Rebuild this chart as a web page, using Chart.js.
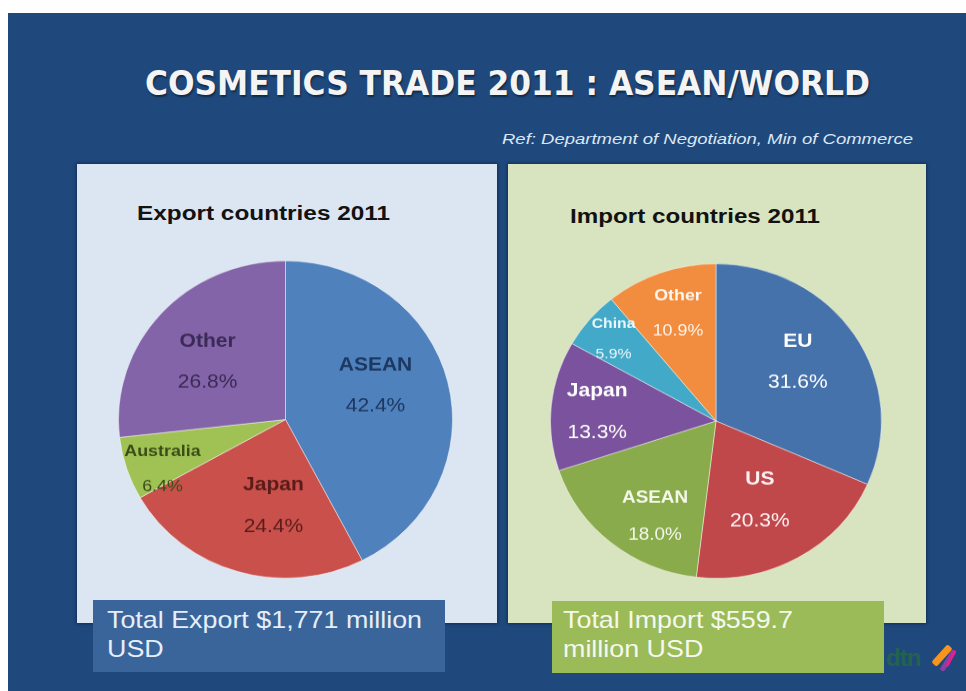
<!DOCTYPE html>
<html>
<head>
<meta charset="utf-8">
<script src="https://cdn.jsdelivr.net/npm/chart.js@4/dist/chart.umd.min.js"></script>
<style>
    html, body { margin: 0; padding: 0; background: #fff; }
    body { width: 966px; height: 691px; position: relative; overflow: hidden; font-family: 'Liberation Sans', Arial, sans-serif; }
    .slide { position: absolute; left: 8px; top: 13px; width: 958px; height: 678px; background: #1f497d; }
    .abs { position: absolute; white-space: nowrap; width: max-content; transform-origin: 0 0; }
    #title { left: 145px; top: 68px; font: bold 33px/32px 'DejaVu Sans', sans-serif; color: #f4f4f4; text-shadow: 1px 2px 2px rgba(0,0,0,0.45); }
    #ref { left: 502px; top: 131px; font: italic 15px/15px 'Liberation Sans', Arial, sans-serif; color: #dde7f3; }
    .panel { position: absolute; top: 164px; height: 459px; box-shadow: 0 0 3px 1px rgba(10,30,60,0.6); }
    #panelExport { left: 77px; width: 420px; background: #dce6f2; }
    #panelImport { left: 508px; width: 418px; background: #d8e4bf; }
    .ptitle { font: bold 20px/20px 'Liberation Sans', Arial, sans-serif; color: #121212; }
    .total { position: absolute; height: 72px; }
    #totalExport { left: 93px; top: 600px; width: 352px; background: #3a659b; }
    #totalImport { left: 552px; top: 601px; width: 332px; background: #9bbb59; }
    .ttext { font: 24px/29px 'Liberation Sans', Arial, sans-serif; }
    canvas { position: absolute; transform: scaleY(0.95); transform-origin: 50% 50%; }
    #logo .dtn { position: absolute; left: 886px; top: 646px; font: bold 24px/24px 'Liberation Sans', Arial, sans-serif; color: #24624f; letter-spacing: -1px; }
    #logo i { position: absolute; display: block; border-radius: 2px; }
</style>
</head>
<body>
<div class="slide"></div>

<div id="title" class="abs">COSMETICS TRADE 2011 : ASEAN/WORLD</div>
<div id="ref" class="abs">Ref: Department of Negotiation, Min of Commerce</div>

<div id="panelExport" class="panel"></div>
<div id="panelImport" class="panel"></div>

<div id="exportTitle" class="abs ptitle" style="left:137px; top:203px;">Export countries 2011</div>
<div id="importTitle" class="abs ptitle" style="left:570px; top:206px;">Import countries 2011</div>

<canvas id="chart-export" width="335" height="335" style="left:118px; top:252px;"></canvas>
<canvas id="chart-import" width="332" height="332" style="left:550px; top:255px;"></canvas>

<div id="totalExport" class="total"></div>
<div id="totalImport" class="total"></div>
<div id="exportText" class="abs ttext" style="left:107px; top:605px; color:#e6eefa;"><span>Total Export $1,771 million</span><br><span>USD</span></div>
<div id="importText" class="abs ttext" style="left:563px; top:605px; color:#f5f8ee;"><span>Total Import $559.7</span><br><span>million USD</span></div>

<div id="logo">
    <span class="dtn">dtn</span>
    <i style="left:930px; top:652px; width:24px; height:7px; background:#f7941d; transform:rotate(-48deg);"></i>
    <i style="left:936px; top:658px; width:24px; height:5px; background:#8b3fa6; transform:rotate(-58deg);"></i>
    <i style="left:942px; top:657px; width:18px; height:3px; background:#e0218a; transform:rotate(-62deg);"></i>
</div>

<script>
// shares in percent, clockwise from 12 o'clock
const exportLabels = ['ASEAN', 'Japan', 'Australia', 'Other'];
const exportShares = [42.4, 24.4, 6.4, 26.8];

const importLabels = ['EU', 'US', 'ASEAN', 'Japan', 'China', 'Other'];
const importShares = [31.6, 20.3, 18.0, 13.3, 5.9, 10.9];

// ── Slice styling ────────────────────────────────────────
const exportColors    = ['#4f81bd', '#c9504b', '#a0c255', '#8364a8'];
const exportTextCols  = ['#1c3760', '#5a1c1a', '#3a4d17', '#3a2a55'];
const exportFontSizes = [20, 20, 17, 20];
// [fraction of radius, angle nudge in degrees]
const exportPlace     = [[0.58, -8], [0.55, -9], [0.80, -5], [0.59, -4]];

const importColors    = ['#4672ab', '#c0484a', '#8aab4c', '#7a529d', '#43a9c8', '#f28c3e'];
const importTextCols  = ['#ffffff', '#fdf2f2', '#f4f8ea', '#ffffff', '#eaf7fb', '#fff6ee'];
const importFontSizes = [20, 20, 18, 20, 15, 17];
const importPlace     = [[0.62, -4], [0.57, 2], [0.71, -8], [0.72, -1], [0.81, 0], [0.72, 1]];

// stretch a line of text to the width it occupies on the slide
function fitWidth(el, target, ref) {
    const w = (ref || el).getBoundingClientRect().width;
    el.style.transform = `scaleX(${target / w})`;
}

// name on top, share underneath, placed inside each slice
const sliceLabels = {
    id: 'sliceLabels',
    afterDatasetsDraw(chart, args, opts) {
        const ctx = chart.ctx;
        const values = chart.data.datasets[0].data;
        chart.getDatasetMeta(0).data.forEach((arc, i) => {
            const [frac, nudge] = opts.place[i];
            const mid = (arc.startAngle + arc.endAngle) / 2 + nudge * Math.PI / 180;
            const r = arc.outerRadius * frac;
            const size = opts.sizes[i];
            const gap = size * 1.08;
            ctx.save();
            ctx.translate(arc.x + Math.cos(mid) * r, arc.y + Math.sin(mid) * r);
            ctx.scale(1.05, 1);
            ctx.fillStyle = opts.colors[i];
            ctx.textAlign = 'center';
            ctx.textBaseline = 'middle';
            ctx.font = `bold ${size}px 'Liberation Sans', Arial, sans-serif`;
            ctx.fillText(chart.data.labels[i], 0, -gap);
            ctx.font = `${size}px 'Liberation Sans', Arial, sans-serif`;
            ctx.fillText(values[i].toFixed(1) + '%', 0, gap);
            ctx.restore();
        });
    }
};

function makePie(id, labels, values, colors, textColors, sizes, place) {
    return new Chart(document.getElementById(id), {
        type: 'pie',
        data: {
            labels: labels,
            datasets: [{
                data: values,
                backgroundColor: colors,
                borderColor: 'rgba(255,255,255,0.45)',
                borderWidth: 1,
                hoverOffset: 0
            }]
        },
        options: {
            responsive: false,
            animation: false,
            events: [],
            layout: { padding: 0 },
            plugins: {
                legend: { display: false },
                tooltip: { enabled: false },
                sliceLabels: { colors: textColors, sizes: sizes, place: place }
            }
        },
        plugins: [sliceLabels]
    });
}

makePie('chart-export', exportLabels, exportShares, exportColors, exportTextCols, exportFontSizes, exportPlace);
makePie('chart-import', importLabels, importShares, importColors, importTextCols, importFontSizes, importPlace);

fitWidth(document.getElementById('title'), 725);
fitWidth(document.getElementById('ref'), 411);
fitWidth(document.getElementById('exportTitle'), 253);
fitWidth(document.getElementById('importTitle'), 250);
const expText = document.getElementById('exportText');
fitWidth(expText, 315, expText.querySelector('span'));
const impText = document.getElementById('importText');
fitWidth(impText, 230, impText.querySelector('span'));
</script>
</body>
</html>
